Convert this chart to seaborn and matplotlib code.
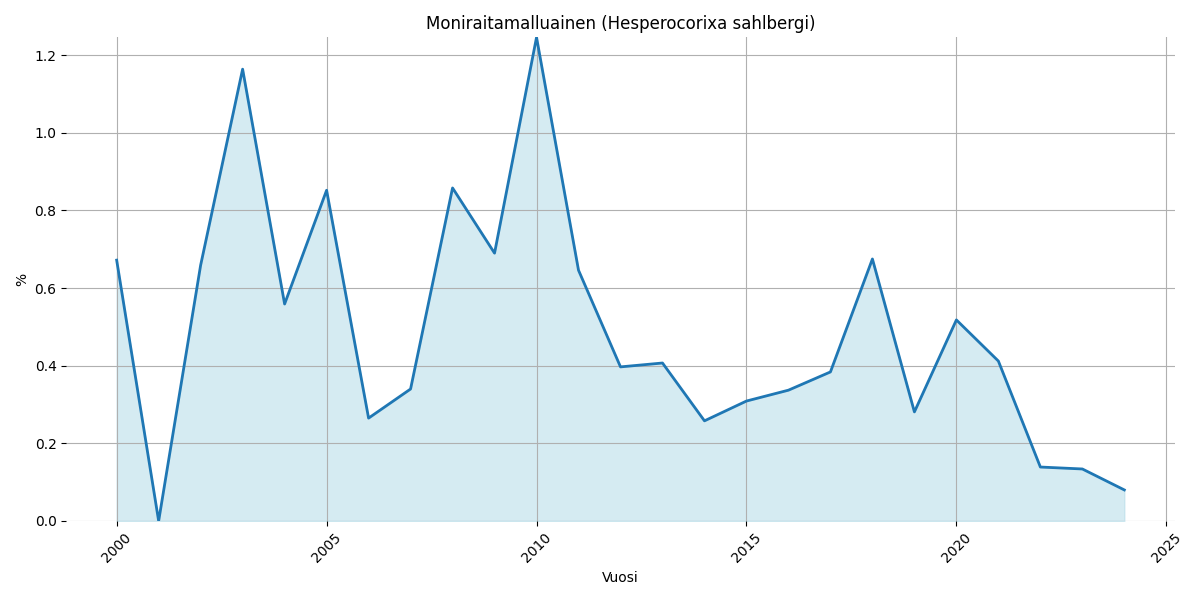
import matplotlib
matplotlib.use("Agg")
import matplotlib.pyplot as plt
import seaborn as sns
import pandas as pd

vuodet = list(range(2000, 2025))
osuus = [0.672, 0.0, 0.659, 1.164, 0.559, 0.852, 0.265, 0.340, 0.858, 0.690,
         1.246, 0.646, 0.397, 0.407, 0.258, 0.309, 0.337, 0.384, 0.675, 0.281,
         0.518, 0.412, 0.139, 0.134, 0.080]

df = pd.DataFrame({"Vuosi": vuodet, "%": osuus})

fig, ax = plt.subplots(figsize=(12, 6), dpi=100)
ax.fill_between(df["Vuosi"], df["%"], color="lightblue", alpha=0.5)
sns.lineplot(data=df, x="Vuosi", y="%", ax=ax, color="#1f77b4", linewidth=2)

ax.set_title("Moniraitamalluainen (Hesperocorixa sahlbergi)")
ax.set_xlabel("Vuosi")
ax.set_ylabel("%")
ax.set_ylim(0, max(osuus))
ax.grid(True)
ax.tick_params(axis="x", rotation=45)
sns.despine(left=True, bottom=True)

plt.tight_layout()
plt.savefig("out.png")
